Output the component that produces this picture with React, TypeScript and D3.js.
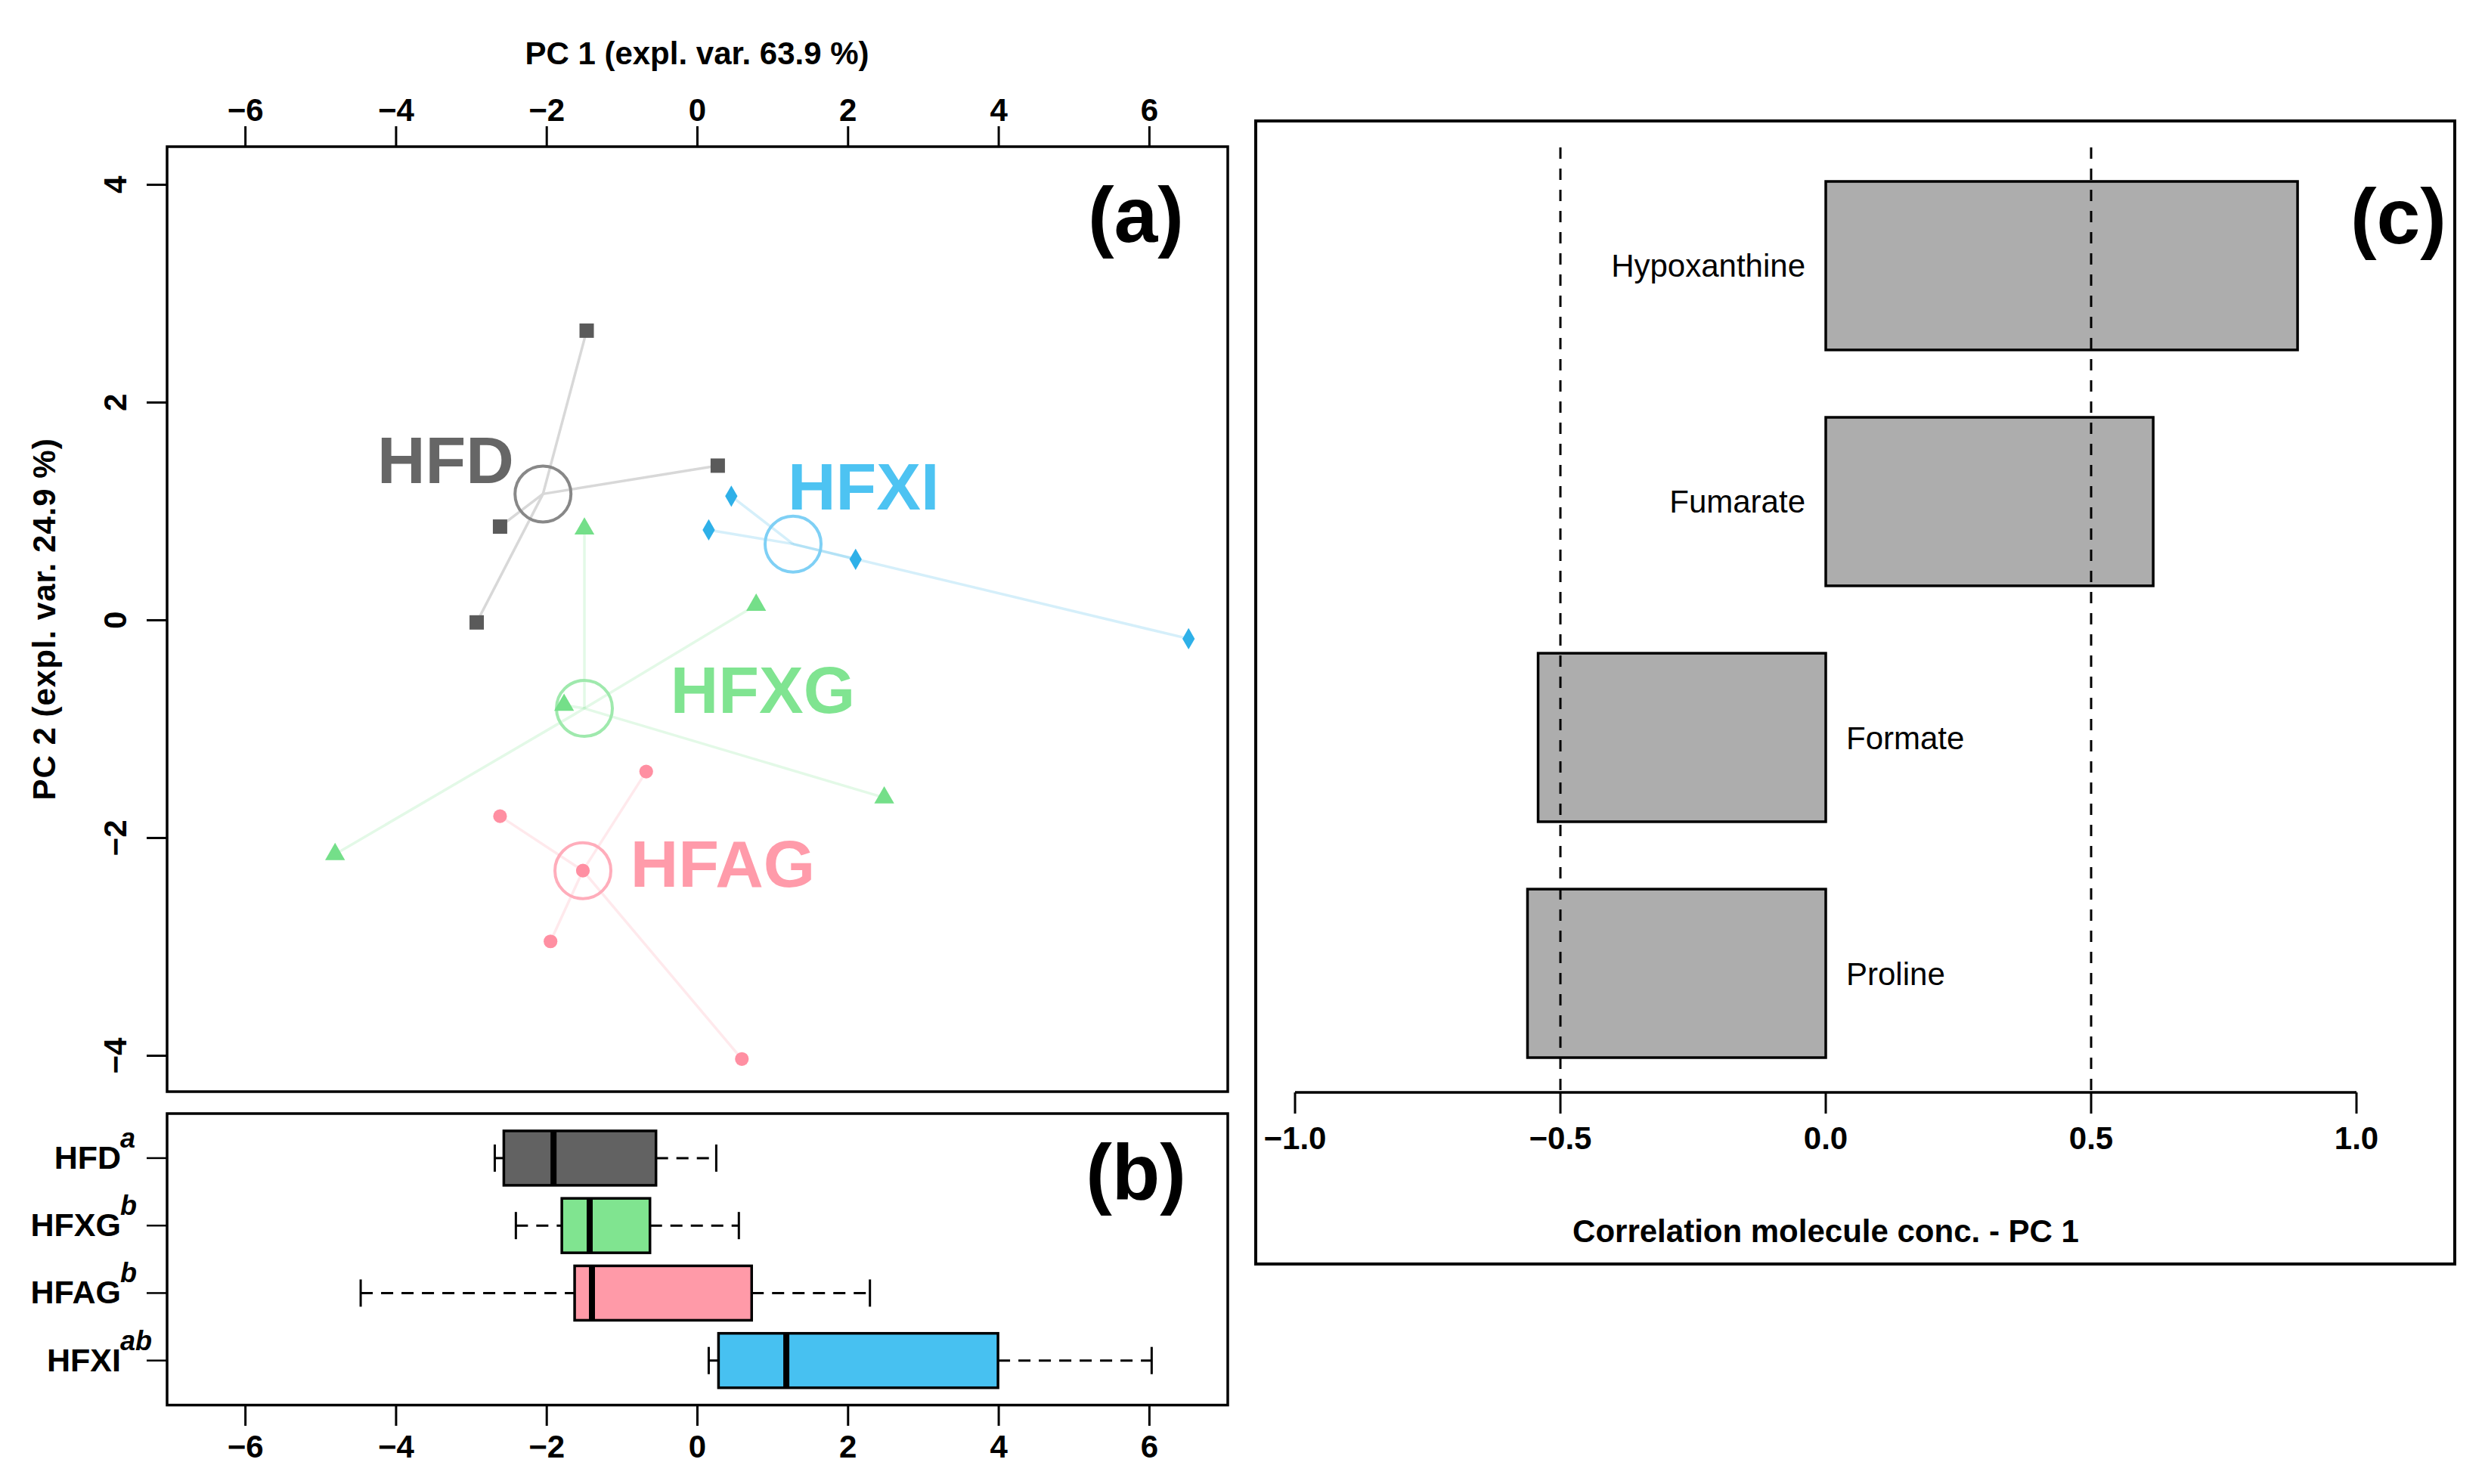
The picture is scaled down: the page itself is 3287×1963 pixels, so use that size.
import * as d3 from 'd3';

// ---- data ----
const groups = ['HFD', 'HFXG', 'HFAG', 'HFXI'];

// PCA sample scores (PC1, PC2) per group
const samplePC1: Record<string, number[]> = {
  HFD: [-1.47, 0.27, -2.62, -2.93],
  HFXI: [0.45, 0.15, 2.1, 6.52],
  HFXG: [-1.5, 0.78, -1.77, 2.48, -4.81],
  HFAG: [-0.68, -2.62, -1.52, -1.95, 0.59]
};
const samplePC2: Record<string, number[]> = {
  HFD: [2.66, 1.42, 0.86, -0.02],
  HFXI: [1.14, 0.83, 0.56, -0.17],
  HFXG: [0.84, 0.14, -0.78, -1.63, -2.15],
  HFAG: [-1.39, -1.8, -2.3, -2.95, -4.03]
};
const centroidPC1 = [-2.05, -1.5, -1.52, 1.27];
const centroidPC2 = [1.16, -0.81, -2.3, 0.7];
const labelPC1 = [-4.25, -0.36, -0.89, 1.2];
const labelPC2 = [1.26, -0.85, -2.45, 1.02];

// boxplot of PC1 scores
const boxLow = [-2.69, -2.41, -4.47, 0.15];
const boxQ1 = [-2.57, -1.8, -1.63, 0.28];
const boxMedian = [-1.91, -1.43, -1.4, 1.18];
const boxQ3 = [-0.55, -0.63, 0.72, 3.99];
const boxHigh = [0.25, 0.55, 2.29, 6.03];
const letters = ['a', 'b', 'b', 'ab'];

// correlation with PC1
const molecules = ['Hypoxanthine', 'Fumarate', 'Formate', 'Proline'];
const correlations = [0.889, 0.617, -0.542, -0.562];

const pc1Ticks = [-6, -4, -2, 0, 2, 4, 6];
const pc2Ticks = [-4, -2, 0, 2, 4];
const corrTicks = [-1, -0.5, 0, 0.5, 1];
const corrCutoffs = [-0.5, 0.5];

// ---- styles ----
const labelColor: Record<string, string> = {
  HFD: '#666666', HFXG: '#80e491', HFAG: '#ff9baa', HFXI: '#4dc3f2'
};
const pointColor: Record<string, string> = {
  HFD: '#5a5a5a', HFXG: '#74df89', HFAG: '#ff8fa2', HFXI: '#2eb0e8'
};
const ringColor: Record<string, string> = {
  HFD: '#888888', HFXG: '#9fe9ad', HFAG: '#ffadbb', HFXI: '#7fd0f5'
};
const boxFill: Record<string, string> = {
  HFD: '#626262', HFXG: '#80e490', HFAG: '#ff9aa8', HFXI: '#47c1f1'
};
const symbolType: Record<string, d3.SymbolType> = {
  HFD: d3.symbolSquare, HFXG: d3.symbolTriangle, HFAG: d3.symbolCircle, HFXI: d3.symbolDiamond
};
const symbolSize: Record<string, number> = { HFD: 361, HFXG: 300, HFAG: 260, HFXI: 230 };

const FONT = '"Liberation Sans", Arial, Helvetica, sans-serif';
const fmt = (v: number) => (v < 0 ? '\u2212' + Math.abs(v) : String(v));
const fmt1 = (v: number) => (v < 0 ? '\u2212' + Math.abs(v).toFixed(1) : v.toFixed(1));

export default function App() {
  const W = 3287;
  const H = 1963;

  // panel (a)
  const xA = d3.scaleLinear().domain([-7.04, 7.04]).range([221, 1624]);
  const yA = d3.scaleLinear().domain([-4.33, 4.35]).range([1444, 194]);
  // panel (b)
  const yB = d3.scaleLinear().domain([0.34, 4.66]).range([1473, 1858.6]);
  // panel (c)
  const xC = d3.scaleLinear().domain([-1, 1]).range([1713, 3117]);
  const yC = d3.scaleBand<string>().domain(molecules).range([240, 1399]).paddingInner(0.4 / 1.4).paddingOuter(0);

  const boxH = 72;
  const medianOrder = ['HFD', 'HFXI', 'HFXG', 'HFAG'];

  return (
    <svg
      width={W}
      height={H}
      style={{ position: 'absolute', left: 0, top: 0, background: '#fff', fontFamily: FONT }}
    >
      <rect x={0} y={0} width={W} height={H} fill="#fff" />

      {/* ---------- (a) PCA ---------- */}
      <g>
        {/* star lines */}
        {medianOrder.map((g) => {
          const gi = groups.indexOf(g);
          return samplePC1[g].map((v, i) => (
            <line
              key={`l-${g}-${i}`}
              x1={xA(v)}
              y1={yA(samplePC2[g][i])}
              x2={xA(centroidPC1[gi])}
              y2={yA(centroidPC2[gi])}
              stroke={g === 'HFD' ? '#d8d8d8' : pointColor[g]}
              strokeOpacity={g === 'HFD' ? 1 : 0.2}
              strokeWidth={3.5}
            />
          ));
        })}
        {/* centroid rings */}
        {groups.map((g, gi) => (
          <circle
            key={`c-${g}`}
            cx={xA(centroidPC1[gi])}
            cy={yA(centroidPC2[gi])}
            r={37}
            fill="none"
            stroke={ringColor[g]}
            strokeWidth={4}
          />
        ))}
        {/* samples */}
        {groups.map((g) =>
          samplePC1[g].map((v, i) => (
            <path
              key={`p-${g}-${i}`}
              transform={`translate(${xA(v)},${yA(samplePC2[g][i])})`}
              d={d3.symbol().type(symbolType[g]).size(symbolSize[g])() || ''}
              fill={pointColor[g]}
            />
          ))
        )}
        {/* group labels */}
        {groups.map((g, gi) => (
          <text
            key={`t-${g}`}
            x={xA(labelPC1[gi])}
            y={yA(labelPC2[gi])}
            fontSize={88}
            fontWeight="bold"
            fill={labelColor[g]}
          >
            {g}
          </text>
        ))}

        <rect x={221} y={194} width={1403} height={1250} fill="none" stroke="#000" strokeWidth={3.5} />

        {/* top axis */}
        {pc1Ticks.map((t) => (
          <g key={`ta-${t}`}>
            <line x1={xA(t)} x2={xA(t)} y1={194} y2={167} stroke="#000" strokeWidth={3} />
            <text x={xA(t)} y={160} textAnchor="middle" fontSize={42} fontWeight="bold">
              {fmt(t)}
            </text>
          </g>
        ))}
        <text x={922} y={85} textAnchor="middle" fontSize={42} fontWeight="bold">
          PC 1 (expl. var. 63.9 %)
        </text>

        {/* left axis */}
        {pc2Ticks.map((t) => (
          <g key={`la-${t}`}>
            <line x1={221} x2={194} y1={yA(t)} y2={yA(t)} stroke="#000" strokeWidth={3} />
            <text
              transform={`translate(167,${yA(t)}) rotate(-90)`}
              textAnchor="middle"
              fontSize={42}
              fontWeight="bold"
            >
              {fmt(t)}
            </text>
          </g>
        ))}
        <text
          transform={`translate(73,${(194 + 1444) / 2}) rotate(-90)`}
          textAnchor="middle"
          fontSize={42}
          fontWeight="bold"
          letterSpacing={1}
        >
          PC 2 (expl. var. 24.9 %)
        </text>

        <text x={1566} y={320} textAnchor="end" fontSize={104} fontWeight="bold">
          (a)
        </text>
      </g>

      {/* ---------- (b) boxplots ---------- */}
      <g>
        {groups.map((g, i) => {
          const cy = yB(i + 1);
          return (
            <g key={`b-${g}`}>
              <line x1={xA(boxLow[i])} x2={xA(boxQ1[i])} y1={cy} y2={cy} stroke="#000" strokeWidth={3} strokeDasharray="16,11" />
              <line x1={xA(boxQ3[i])} x2={xA(boxHigh[i])} y1={cy} y2={cy} stroke="#000" strokeWidth={3} strokeDasharray="16,11" />
              <line x1={xA(boxLow[i])} x2={xA(boxLow[i])} y1={cy - boxH / 4} y2={cy + boxH / 4} stroke="#000" strokeWidth={3} />
              <line x1={xA(boxHigh[i])} x2={xA(boxHigh[i])} y1={cy - boxH / 4} y2={cy + boxH / 4} stroke="#000" strokeWidth={3} />
              <rect
                x={xA(boxQ1[i])}
                y={cy - boxH / 2}
                width={xA(boxQ3[i]) - xA(boxQ1[i])}
                height={boxH}
                fill={boxFill[g]}
                stroke="#000"
                strokeWidth={3.5}
              />
              <line x1={xA(boxMedian[i])} x2={xA(boxMedian[i])} y1={cy - boxH / 2} y2={cy + boxH / 2} stroke="#000" strokeWidth={8} />
              <line x1={221} x2={194} y1={cy} y2={cy} stroke="#000" strokeWidth={2.5} />
              <text x={160} y={cy + 14} textAnchor="end" fontSize={43} fontWeight="bold">
                {g}
              </text>
              <text x={159} y={cy - 14} textAnchor="start" fontSize={36} fontWeight="bold" fontStyle="italic">
                {letters[i]}
              </text>
            </g>
          );
        })}
        <rect x={221} y={1473} width={1403} height={385.6} fill="none" stroke="#000" strokeWidth={3.5} />
        {pc1Ticks.map((t) => (
          <g key={`bb-${t}`}>
            <line x1={xA(t)} x2={xA(t)} y1={1858.6} y2={1886} stroke="#000" strokeWidth={3} />
            <text x={xA(t)} y={1928} textAnchor="middle" fontSize={42} fontWeight="bold">
              {fmt(t)}
            </text>
          </g>
        ))}
        <text x={1569} y={1586} textAnchor="end" fontSize={104} fontWeight="bold">
          (b)
        </text>
      </g>

      {/* ---------- (c) correlations ---------- */}
      <g>
        <rect x={1661} y={160} width={1586} height={1512} fill="none" stroke="#000" strokeWidth={4} />
        {molecules.map((m, i) => {
          const v = correlations[i];
          const y0 = yC(m) || 0;
          const bw = yC.bandwidth();
          return (
            <g key={`c-${m}`}>
              <rect
                x={xC(Math.min(0, v))}
                y={y0}
                width={Math.abs(xC(v) - xC(0))}
                height={bw}
                fill="#adadad"
                stroke="#000"
                strokeWidth={3.5}
              />
              <text
                x={v >= 0 ? xC(0) - 27 : xC(0) + 27}
                y={y0 + bw / 2 + 15}
                textAnchor={v >= 0 ? 'end' : 'start'}
                fontSize={42}
              >
                {m}
              </text>
            </g>
          );
        })}
        {corrCutoffs.map((c) => (
          <line
            key={`cut-${c}`}
            x1={xC(c)}
            x2={xC(c)}
            y1={195}
            y2={1445}
            stroke="#000"
            strokeWidth={3}
            strokeDasharray="15,13"
          />
        ))}
        <line x1={xC(-1)} x2={xC(1)} y1={1445} y2={1445} stroke="#000" strokeWidth={3.5} />
        {corrTicks.map((t) => (
          <g key={`ct-${t}`}>
            <line x1={xC(t)} x2={xC(t)} y1={1445} y2={1473} stroke="#000" strokeWidth={3} />
            <text x={xC(t)} y={1520} textAnchor="middle" fontSize={42} fontWeight="bold">
              {fmt1(t)}
            </text>
          </g>
        ))}
        <text x={xC(0)} y={1643} textAnchor="middle" fontSize={42} fontWeight="bold">
          Correlation molecule conc. - PC 1
        </text>
        <text x={3236} y={322} textAnchor="end" fontSize={104} fontWeight="bold">
          (c)
        </text>
      </g>
    </svg>
  );
}
